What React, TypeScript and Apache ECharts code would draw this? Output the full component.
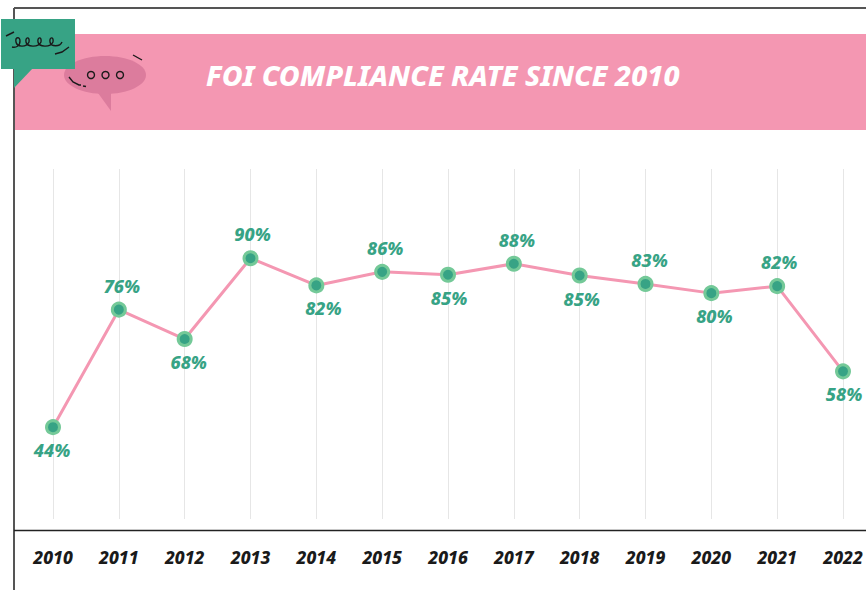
import React, { useEffect, useRef } from "react";
import * as echarts from "echarts";

const years = ["2010","2011","2012","2013","2014","2015","2016","2017","2018","2019","2020","2021","2022"];
const rates = [44, 76, 68, 90, 82.6, 86.3, 85.5, 88.5, 85.3, 83, 80.5, 82.4, 59.2];
const shown = [44, 76, 68, 90, 82, 86, 85, 88, 85, 83, 80, 82, 58];
const placement = ["bottom","top","bottom","top","bottom","top","bottom","top","bottom","top","bottom","top","bottom"];
const labelNudge = [-1, 3, 4, 2, 7, 3, 1, 3, 2, 4, 3, 2, 1];
const titleText = "FOI COMPLIANCE RATE SINCE 2010";

const FONT = "'Noto Sans'";
const PINK = "#F497B2";
const GREEN = "#37A385";
const INK = "#1a1a1a";

echarts.graphic.registerShape("squiggle", (echarts.graphic as any).extendPath(
  "M12 47 C16 48 20 46 20 41 C20 36 15 37 16 42 C17 47 26 48 29 42 C30 36 25 37 26 42 C27 47 38 48 41 42 C42 36 37 37 38 42 C39 47 50 48 53 42 C54 36 49 37 50 42 C51 47 60 47 62 42",
  {}
));

export default function App() {
  const ref = useRef<HTMLDivElement>(null);
  useEffect(() => {
    document.body.style.margin = "0";
    const chart = echarts.init(ref.current!, null, { renderer: "svg" });
    const stroke = { stroke: INK, lineWidth: 1.4, fill: "none" };
    chart.setOption({
      animation: false,
      backgroundColor: "#fff",
      grid: { left: 53, right: 23, top: 169, bottom: 71 },
      xAxis: {
        type: "category",
        data: years,
        boundaryGap: false,
        axisLine: { show: false },
        axisTick: { show: false },
        splitLine: { show: true, lineStyle: { color: "#E6E6E6", width: 1 } },
        axisLabel: {
          margin: 29,
          color: INK,
          fontFamily: FONT,
          fontWeight: 800,
          fontStyle: "italic",
          fontSize: 17.5,
          interval: 0,
        },
      },
      yAxis: { type: "value", min: 19, max: 114.3, show: false, splitLine: { show: false } },
      series: [{
        type: "line",
        z: 5,
        data: rates.map((v, i) => ({
          value: v,
          label: {
            position: placement[i],
            formatter: shown[i] + "%",
            offset: [labelNudge[i], placement[i] === "top" ? -1 : 0],
          },
        })),
        symbol: "circle",
        symbolSize: 13,
        lineStyle: { color: PINK, width: 3 },
        itemStyle: { color: GREEN, borderColor: "#74C998", borderWidth: 3 },
        label: {
          show: true,
          distance: 6,
          color: GREEN,
          fontFamily: FONT,
          fontWeight: 800,
          fontStyle: "italic",
          fontSize: 18,
        },
      }],
      graphic: [
        { type: "line", z: 1, shape: { x1: 14, y1: 8, x2: 866, y2: 8 }, style: { stroke: "#555", lineWidth: 2 } },
        { type: "line", z: 1, shape: { x1: 14, y1: 8, x2: 14, y2: 590 }, style: { stroke: "#555", lineWidth: 2 } },
        { type: "line", z: 1, shape: { x1: 14, y1: 530.5, x2: 866, y2: 530.5 }, style: { stroke: "#222", lineWidth: 1.5 } },
        { type: "rect", z: 2, shape: { x: 15, y: 34, width: 851, height: 96 }, style: { fill: PINK } },
        { type: "ellipse", z: 3, shape: { cx: 105, cy: 75, rx: 41, ry: 19 }, style: { fill: "#DC7C9D" } },
        { type: "polygon", z: 3, shape: { points: [[98, 93], [111, 93], [111, 111]] }, style: { fill: "#DC7C9D" } },
        { type: "circle", z: 4, shape: { cx: 91, cy: 75, r: 3.5 }, style: stroke },
        { type: "circle", z: 4, shape: { cx: 105.5, cy: 75, r: 3.5 }, style: stroke },
        { type: "circle", z: 4, shape: { cx: 120, cy: 75, r: 3.5 }, style: stroke },
        { type: "polyline", z: 4, shape: { points: [[69, 77], [73, 82], [79, 85], [81, 85]] }, style: stroke },
        { type: "line", z: 4, shape: { x1: 83, y1: 86, x2: 86, y2: 86.5 }, style: stroke },
        { type: "line", z: 4, shape: { x1: 133, y1: 55, x2: 142, y2: 60 }, style: stroke },
        { type: "rect", z: 6, shape: { x: 1, y: 19, width: 74, height: 50 }, style: { fill: GREEN } },
        { type: "polygon", z: 6, shape: { points: [[14, 68], [33, 68], [14, 88]] }, style: { fill: GREEN } },
        { type: "squiggle", z: 7, x: 0, y: 0, style: { stroke: INK, lineWidth: 1.4, fill: "none" } },
        { type: "line", z: 7, shape: { x1: 6, y1: 36, x2: 14, y2: 32 }, style: stroke },
        { type: "polyline", z: 7, shape: { points: [[55, 54], [62, 52], [69, 47]] }, style: stroke },
        {
          type: "text",
          z: 7,
          x: 206,
          y: 74,
          style: {
            text: titleText,
            fill: "#fff",
            font: "italic 800 28.6px 'Noto Sans'",
            textVerticalAlign: "middle",
          },
        },
      ],
    });
    return () => chart.dispose();
  }, []);
  return <div ref={ref} style={{ width: 866, height: 590 }} />;
}
